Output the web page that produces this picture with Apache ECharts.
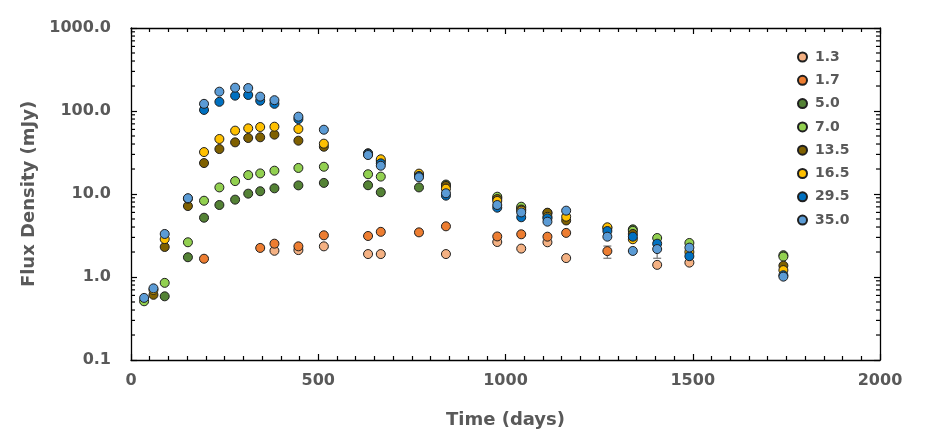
<!DOCTYPE html>
<html>
<head>
<meta charset="utf-8">
<script src="https://cdn.jsdelivr.net/npm/echarts@6/dist/echarts.min.js"></script>
<style>
html,body{margin:0;padding:0;background:#fff;}
#chart{width:925px;height:445px;}
</style>
</head>
<body>
<div id="chart"></div>
<script>
// ---- Data (time in days, flux density in mJy) ----
const seriesNames = ['1.3', '1.7', '5.0', '7.0', '13.5', '16.5', '29.5', '35.0'];
const seriesColors = ['#F4B183', '#ED7D31', '#548235', '#92D050', '#7F6000', '#FFC000', '#0070C0', '#5B9BD5'];

const f1_3 = [[383,2.07],[447,2.11],[515,2.34],[633,1.89],[667,1.89],[841,1.89],[978,2.64],[1042,2.2],[1112,2.62],[1162,1.69],[1405,1.4],[1491,1.49]];
const f1_7 = [[195,1.66],[345,2.24],[383,2.52],[447,2.34],[515,3.18],[633,3.12],[667,3.5],[769,3.45],[841,4.08],[978,3.08],[1042,3.27],[1112,3.06],[1162,3.4],[1272,2.05]];
const f5_0 = [[90,0.585],[152,1.73],[195,5.18],[236,7.37],[278,8.55],[313,10.1],[345,10.8],[383,11.7],[447,12.7],[515,13.6],[633,12.75],[667,10.5],[769,12.0],[841,13.0],[978,9.0],[1042,6.8],[1112,5.9],[1340,3.75],[1742,1.83]];
const f7_0 = [[35,0.51],[90,0.85],[152,2.62],[195,8.3],[236,12.0],[278,14.3],[313,16.9],[345,17.7],[383,19.1],[447,20.6],[515,21.3],[633,17.3],[667,16.2],[978,9.28],[1042,7.03],[1340,3.6],[1405,2.95],[1491,2.57],[1742,1.76]];
const f13_5 = [[60,0.61],[90,2.3],[152,7.16],[195,23.6],[236,34.8],[278,41.9],[313,47.3],[345,48.2],[383,51.9],[447,43.9],[515,37.1],[633,31],[667,25],[769,17],[841,12.5],[978,8.7],[1042,6.5],[1112,5.95],[1162,4.8],[1272,3.9],[1340,3.3],[1742,1.37]];
const f16_5 = [[60,0.70],[90,2.86],[152,8.78],[195,32],[236,46],[278,58],[313,61.8],[345,64.1],[383,64.7],[447,60.7],[515,40.4],[633,30],[667,26.2],[769,17.6],[841,11.6],[978,8.24],[1042,6.3],[1112,5.3],[1162,5.33],[1272,3.97],[1340,2.85],[1491,2.0],[1742,1.21]];
const f29_5 = [[195,103],[236,129],[278,153],[313,156],[345,133],[383,122],[447,80],[633,30.5],[667,23.4],[769,16.5],[841,9.55],[978,6.84],[1042,5.24],[1112,5.1],[1272,3.58],[1340,3.06],[1405,2.52],[1491,1.78],[1742,1.05]];
const f35_0 = [[35,0.56],[60,0.73],[90,3.3],[152,8.9],[195,122],[236,171],[278,191],[313,189],[345,149],[383,135],[447,85.5],[515,59.5],[633,29.5],[667,21.9],[769,15.9],[841,10.2],[978,7.37],[1042,6.0],[1112,4.64],[1162,6.3],[1272,3.06],[1340,2.06],[1405,2.17],[1491,2.26],[1742,1.01]];
const seriesData = [f1_3, f1_7, f5_0, f7_0, f13_5, f16_5, f29_5, f35_0];

// error bars: [day, low, high]
const errorBars = [[345,2.1,2.4],[769,3.2,3.7],[1272,1.68,2.36],[1405,1.68,2.45]];

// axis ticks
const yMinorTicks = [0.2,0.3,0.4,0.5,0.6,0.7,0.8,0.9,2,3,4,5,6,7,8,9,20,30,40,50,60,70,80,90,200,300,400,500,600,700,800,900];

const TXT = '#595959';
const FONT = 'DejaVu Sans';

const chart = echarts.init(document.getElementById('chart'), null, {renderer: 'canvas'});

const scatterSeries = seriesNames.map((n, i) => ({
  name: n,
  type: 'scatter',
  data: seriesData[i],
  symbol: 'circle',
  symbolSize: 9,
  itemStyle: {color: seriesColors[i], borderColor: '#1f1f1f', borderWidth: 1, opacity: 1},
  emphasis: {disabled: true},
  z: 3
}));

const option = {
  animation: false,
  backgroundColor: '#fff',
  grid: {left: 131, right: 45, top: 28, bottom: 85, containLabel: false},
  legend: {
    orient: 'vertical',
    left: 792,
    top: 45,
    itemWidth: 9,
    itemHeight: 9,
    itemGap: 9.3,
    icon: 'circle',
    data: seriesNames,
    textStyle: {color: TXT, fontFamily: FONT, fontWeight: 'bold', fontSize: 14, lineHeight: 14, padding: [0, 0, 0, 3]}
  },
  xAxis: [{
    type: 'value', min: 0, max: 2000, interval: 500,
    name: 'Time (days)', nameLocation: 'middle', nameGap: 51,
    nameTextStyle: {color: TXT, fontFamily: FONT, fontWeight: 'bold', fontSize: 18},
    axisLine: {show: true, onZero: false, lineStyle: {color: '#000', width: 1.3}},
    axisTick: {show: true, inside: true, length: 6, lineStyle: {color: '#000', width: 1.2}},
    minorTick: {show: true, splitNumber: 10, length: 4, lineStyle: {color: '#000', width: 1.2}},
    axisLabel: {color: TXT, fontFamily: FONT, fontWeight: 'bold', fontSize: 16, margin: 13,
      formatter: v => String(v)},
    splitLine: {show: false}
  }, {
    type: 'value', position: 'top', min: 0, max: 2000, interval: 500,
    axisLine: {show: true, onZero: false, lineStyle: {color: '#000', width: 1.3}},
    axisTick: {show: true, inside: true, length: 6, lineStyle: {color: '#000', width: 1.2}},
    minorTick: {show: true, splitNumber: 10, length: 4, lineStyle: {color: '#000', width: 1.2}},
    axisLabel: {show: false},
    splitLine: {show: false}
  }],
  yAxis: [{
    type: 'log', logBase: 10, min: 0.1, max: 1000,
    name: 'Flux Density (mJy)', nameLocation: 'middle', nameGap: 88,
    nameTextStyle: {color: TXT, fontFamily: FONT, fontWeight: 'bold', fontSize: 18},
    axisLine: {show: true, onZero: false, lineStyle: {color: '#000', width: 1.3}},
    axisTick: {show: true, inside: true, length: 6, lineStyle: {color: '#000', width: 1.2}},
    axisLabel: {color: TXT, fontFamily: FONT, fontWeight: 'bold', fontSize: 16, margin: 20,
      formatter: v => Number(v).toFixed(1)},
    splitLine: {show: false}
  }, {
    type: 'log', logBase: 10, min: 0.1, max: 1000, position: 'right',
    axisLine: {show: true, onZero: false, lineStyle: {color: '#000', width: 1.3}},
    axisTick: {show: true, inside: true, length: 6, lineStyle: {color: '#000', width: 1.2}},
    axisLabel: {show: false},
    splitLine: {show: false}
  }],
  series: [
    {
      type: 'custom',
      name: 'minorTicks',
      data: yMinorTicks.map(v => [0, v]),
      silent: true,
      z: 1,
      renderItem: function (params, api) {
        const v = api.value(1);
        const pl = api.coord([0, v]);
        const pr = api.coord([2000, v]);
        return {
          type: 'group',
          children: [
            {type: 'line', shape: {x1: pl[0], y1: pl[1], x2: pl[0] + 4, y2: pl[1]}, style: {stroke: '#000', lineWidth: 1.2}},
            {type: 'line', shape: {x1: pr[0] - 4, y1: pr[1], x2: pr[0], y2: pr[1]}, style: {stroke: '#000', lineWidth: 1.2}}
          ]
        };
      }
    },
    {
      type: 'custom',
      name: 'errors',
      data: errorBars,
      silent: true,
      z: 2,
      renderItem: function (params, api) {
        const x = api.value(0);
        const lo = api.coord([x, api.value(1)]);
        const hi = api.coord([x, api.value(2)]);
        const st = {stroke: '#7f7f7f', lineWidth: 1.3};
        return {
          type: 'group',
          children: [
            {type: 'line', shape: {x1: lo[0], y1: lo[1], x2: hi[0], y2: hi[1]}, style: st},
            {type: 'line', shape: {x1: lo[0] - 4, y1: lo[1], x2: lo[0] + 4, y2: lo[1]}, style: st},
            {type: 'line', shape: {x1: hi[0] - 4, y1: hi[1], x2: hi[0] + 4, y2: hi[1]}, style: st}
          ]
        };
      }
    }
  ].concat(scatterSeries)
};

chart.setOption(option);
</script>
</body>
</html>
